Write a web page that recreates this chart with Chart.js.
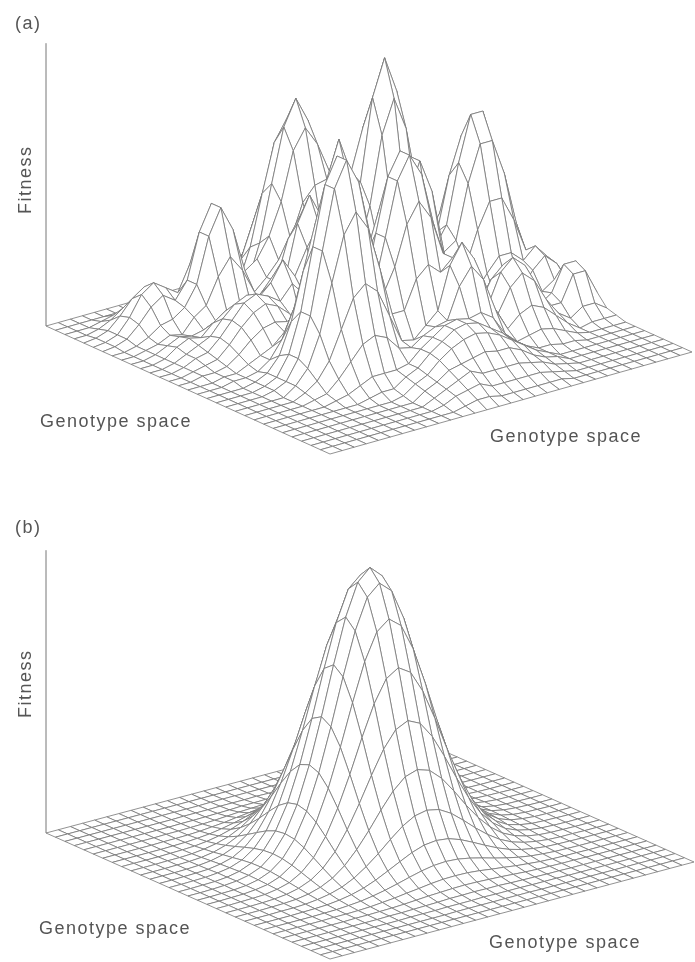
<!DOCTYPE html>
<html>
<head>
<meta charset="utf-8">
<title>Fitness landscapes</title>
<script src="https://cdn.jsdelivr.net/npm/chart.js@4"></script>
<style>
html,body{margin:0;padding:0;background:#fff;}
#page{position:relative;width:695px;height:962px;overflow:hidden;filter:blur(.4px);}
canvas{position:absolute;left:0;}
.lbl{position:absolute;font-family:"Liberation Sans",sans-serif;color:#555;white-space:nowrap;line-height:1;font-size:18px;letter-spacing:1.5px;}
.rot{transform:rotate(-90deg);transform-origin:left top;}
</style>
</head>
<body>
<div id="page">
  <canvas id="chartA" width="695" height="470" style="top:0"></canvas>
  <canvas id="chartB" width="695" height="492" style="top:470px"></canvas>
</div>
<script>
const panelLabels = ['(a)', '(b)'];
const fitnessLabel = 'Fitness';
const genotypeLabel = 'Genotype space';

// heights, 0-100, rows go from the back edge to the left corner
const fitnessA = [
[0,0,0,0,0,0,0,0,0,0,1,2,3,4,3,4,6,5,4,8,6,2,1,0,0,0,0,0,0,0,0],
[0,0,0,0,0,0,0,0,0,1,3,7,10,12,10,9,14,13,9,17,15,5,1,0,0,0,0,0,0,0,0],
[0,0,0,0,0,0,0,0,1,3,8,16,24,28,24,16,19,17,10,17,15,5,1,0,0,0,0,0,0,0,0],
[0,0,0,0,0,0,0,0,2,5,14,28,43,49,43,28,15,13,7,8,6,2,0,0,0,0,0,0,0,0,0],
[0,0,0,0,0,0,0,1,2,7,19,37,56,65,56,37,19,7,3,5,6,5,3,1,0,0,0,0,0,0,0],
[0,0,0,0,0,0,1,3,5,8,19,37,56,65,56,37,19,8,7,11,13,11,7,3,1,0,0,0,0,0,0],
[0,0,0,0,0,1,4,9,15,18,15,28,43,49,43,28,14,6,11,19,23,19,11,5,1,0,0,0,0,0,0],
[0,0,0,0,1,3,9,21,35,42,35,21,24,28,24,16,8,6,13,23,27,23,13,6,2,0,0,0,0,0,0],
[0,0,0,0,1,5,15,35,59,71,59,35,15,21,21,12,5,5,11,19,23,19,11,5,2,2,2,1,0,0,0],
[0,0,0,1,2,5,18,42,71,84,71,42,26,44,44,26,9,4,7,11,13,11,7,4,4,4,3,2,1,0,0],
[0,0,1,3,6,8,15,35,59,71,59,35,34,56,56,34,12,9,9,8,15,18,15,8,7,7,5,4,2,1,0],
[0,1,3,7,14,20,23,34,44,42,35,21,26,44,44,26,17,22,22,17,27,33,27,15,11,10,8,5,3,1,0],
[0,2,6,14,26,38,43,44,57,44,20,9,12,21,21,19,33,42,42,33,33,40,33,18,14,13,10,6,3,1,0],
[1,3,8,20,38,55,62,55,44,22,10,5,2,5,14,29,47,61,61,47,29,33,27,17,17,15,10,6,3,1,0],
[1,3,10,23,43,62,71,62,43,23,18,15,7,6,16,33,54,69,69,54,33,18,16,18,18,16,11,6,3,1,0],
[1,3,8,20,38,55,62,55,38,29,36,29,15,5,14,29,47,61,61,47,29,14,15,17,17,15,10,6,3,1,0],
[0,2,6,14,26,38,43,38,26,36,45,36,18,6,10,19,33,42,42,33,19,10,13,14,14,13,9,8,5,2,0],
[0,1,3,7,14,20,23,27,20,29,36,29,15,5,3,6,17,22,24,24,19,11,10,11,11,10,8,6,4,2,0],
[0,0,1,3,6,8,10,20,15,15,18,20,15,6,4,11,21,36,46,46,36,21,11,7,7,6,5,4,3,1,0],
[0,0,1,2,4,11,17,17,11,8,20,27,20,8,6,16,31,52,67,67,52,31,16,6,5,4,3,2,1,0,0],
[0,0,0,2,8,20,33,33,20,8,15,20,15,12,9,18,35,59,76,76,59,35,18,6,2,1,0,0,0,0,0],
[0,0,0,3,11,26,42,42,26,11,12,16,18,16,12,16,31,52,67,67,52,31,16,6,2,0,0,0,0,0,0],
[0,0,1,2,8,20,33,33,20,8,13,18,20,18,13,11,21,36,46,46,36,21,11,4,1,0,0,0,0,0,0],
[0,0,1,3,6,11,17,17,11,7,12,16,18,16,12,7,11,19,24,24,19,11,6,2,0,0,0,0,0,0,0],
[0,0,2,6,11,14,11,10,8,5,9,12,13,12,9,5,5,8,10,10,8,5,2,1,0,0,0,0,0,0,0],
[0,0,2,7,14,17,14,7,3,4,5,7,8,7,5,3,2,3,3,3,3,2,1,0,0,0,0,0,0,0,0],
[0,0,2,6,11,14,11,6,4,5,6,5,4,3,2,1,1,1,1,1,0,0,0,0,0,0,0,0,0,0,0],
[0,0,1,3,6,7,6,3,2,3,4,3,3,2,1,1,1,0,0,0,0,0,0,0,0,0,0,0,0,0,0],
[0,0,0,1,2,2,2,1,1,1,1,1,1,1,1,0,0,0,0,0,0,0,0,0,0,0,0,0,0,0,0],
[0,0,0,0,.5,.5,.5,0,0,0,0,0,0,0,0,0,0,0,0,0,0,0,0,0,0,0,0,0,0,0,0],
[0,0,0,0,0,0,0,0,0,0,0,0,0,0,0,0,0,0,0,0,0,0,0,0,0,0,0,0,0,0,0]
];

const fitnessB = [
[0,0,0,0,0,0,0,0,0,0,0,0,0,0,0,0,0,0,0,0,0,0,0,0,0,0,0,0,0,0,0],
[0,0,0,0,0,0,0,0,0,0,0,0,0,0,0,0,0,0,0,0,0,0,0,0,0,0,0,0,0,0,0],
[0,0,0,0,0,0,0,0,0,0,0,0,.1,.1,.1,.1,.1,.1,.1,0,0,0,0,0,0,0,0,0,0,0,0],
[0,0,0,0,0,0,0,0,0,.1,.1,.1,.2,.2,.2,.3,.2,.2,.2,.1,.1,.1,0,0,0,0,0,0,0,0,0],
[0,0,0,0,0,0,0,0,.1,.1,.2,.3,.4,.6,.6,.7,.6,.6,.4,.3,.2,.1,.1,0,0,0,0,0,0,0,0],
[0,0,0,0,0,0,.1,.1,.2,.3,.5,.8,1.1,1.3,1.5,1.6,1.5,1.3,1.1,.8,.5,.3,.2,.1,.1,0,0,0,0,0,0],
[0,0,0,0,0,.1,.1,.2,.4,.8,1.2,1.8,2.3,2.9,3.3,3.4,3.3,2.9,2.3,1.8,1.2,.8,.4,.2,.1,.1,0,0,0,0,0],
[0,0,0,0,0,.1,.2,.5,.9,1.6,2.5,3.6,4.8,5.9,6.7,7,6.7,5.9,4.8,3.6,2.5,1.6,.9,.5,.2,.1,0,0,0,0,0],
[0,0,0,0,.1,.2,.4,.9,1.7,2.9,4.6,6.7,8.9,11,12.5,13,12.5,11,8.9,6.7,4.6,2.9,1.7,.9,.4,.2,.1,0,0,0,0],
[0,0,0,.1,.1,.3,.8,1.6,2.9,5,7.9,11.4,15.3,18.9,21.4,22.3,21.4,18.9,15.3,11.4,7.9,5,2.9,1.6,.8,.3,.1,.1,0,0,0],
[0,0,0,.1,.2,.5,1.2,2.5,4.6,7.9,12.5,18.1,24.3,29.9,33.9,35.3,33.9,29.9,24.3,18.1,12.5,7.9,4.6,2.5,1.2,.5,.2,.1,0,0,0],
[0,0,0,.1,.3,.8,1.8,3.6,6.7,11.4,18.1,26.3,35.2,43.4,49.2,51.3,49.2,43.4,35.2,26.3,18.1,11.4,6.7,3.6,1.8,.8,.3,.1,0,0,0],
[0,0,.1,.2,.4,1.1,2.3,4.8,8.9,15.3,24.3,35.2,47.2,58.1,65.9,68.7,65.9,58.1,47.2,35.2,24.3,15.3,8.9,4.8,2.3,1.1,.4,.2,.1,0,0],
[0,0,.1,.2,.6,1.3,2.9,5.9,11,18.9,29.9,43.4,58.1,71.6,81.1,84.6,81.1,71.6,58.1,43.4,29.9,18.9,11,5.9,2.9,1.3,.6,.2,.1,0,0],
[0,0,.1,.2,.6,1.5,3.3,6.7,12.5,21.4,33.9,49.2,65.9,81.1,92,95.9,92,81.1,65.9,49.2,33.9,21.4,12.5,6.7,3.3,1.5,.6,.2,.1,0,0],
[0,0,.1,.3,.7,1.6,3.4,7,13,22.3,35.3,51.3,68.7,84.6,95.9,100,95.9,84.6,68.7,51.3,35.3,22.3,13,7,3.4,1.6,.7,.3,.1,0,0],
[0,0,.1,.2,.6,1.5,3.3,6.7,12.5,21.4,33.9,49.2,65.9,81.1,92,95.9,92,81.1,65.9,49.2,33.9,21.4,12.5,6.7,3.3,1.5,.6,.2,.1,0,0],
[0,0,.1,.2,.6,1.3,2.9,5.9,11,18.9,29.9,43.4,58.1,71.6,81.1,84.6,81.1,71.6,58.1,43.4,29.9,18.9,11,5.9,2.9,1.3,.6,.2,.1,0,0],
[0,0,.1,.2,.4,1.1,2.3,4.8,8.9,15.3,24.3,35.2,47.2,58.1,65.9,68.7,65.9,58.1,47.2,35.2,24.3,15.3,8.9,4.8,2.3,1.1,.4,.2,.1,0,0],
[0,0,0,.1,.3,.8,1.8,3.6,6.7,11.4,18.1,26.3,35.2,43.4,49.2,51.3,49.2,43.4,35.2,26.3,18.1,11.4,6.7,3.6,1.8,.8,.3,.1,0,0,0],
[0,0,0,.1,.2,.5,1.2,2.5,4.6,7.9,12.5,18.1,24.3,29.9,33.9,35.3,33.9,29.9,24.3,18.1,12.5,7.9,4.6,2.5,1.2,.5,.2,.1,0,0,0],
[0,0,0,.1,.1,.3,.8,1.6,2.9,5,7.9,11.4,15.3,18.9,21.4,22.3,21.4,18.9,15.3,11.4,7.9,5,2.9,1.6,.8,.3,.1,.1,0,0,0],
[0,0,0,0,.1,.2,.4,.9,1.7,2.9,4.6,6.7,8.9,11,12.5,13,12.5,11,8.9,6.7,4.6,2.9,1.7,.9,.4,.2,.1,0,0,0,0],
[0,0,0,0,0,.1,.2,.5,.9,1.6,2.5,3.6,4.8,5.9,6.7,7,6.7,5.9,4.8,3.6,2.5,1.6,.9,.5,.2,.1,0,0,0,0,0],
[0,0,0,0,0,.1,.1,.2,.4,.8,1.2,1.8,2.3,2.9,3.3,3.4,3.3,2.9,2.3,1.8,1.2,.8,.4,.2,.1,.1,0,0,0,0,0],
[0,0,0,0,0,0,.1,.1,.2,.3,.5,.8,1.1,1.3,1.5,1.6,1.5,1.3,1.1,.8,.5,.3,.2,.1,.1,0,0,0,0,0,0],
[0,0,0,0,0,0,0,0,.1,.1,.2,.3,.4,.6,.6,.7,.6,.6,.4,.3,.2,.1,.1,0,0,0,0,0,0,0,0],
[0,0,0,0,0,0,0,0,0,.1,.1,.1,.2,.2,.2,.3,.2,.2,.2,.1,.1,.1,0,0,0,0,0,0,0,0,0],
[0,0,0,0,0,0,0,0,0,0,0,0,.1,.1,.1,.1,.1,.1,.1,0,0,0,0,0,0,0,0,0,0,0,0],
[0,0,0,0,0,0,0,0,0,0,0,0,0,0,0,0,0,0,0,0,0,0,0,0,0,0,0,0,0,0,0],
[0,0,0,0,0,0,0,0,0,0,0,0,0,0,0,0,0,0,0,0,0,0,0,0,0,0,0,0,0,0,0]
];

const LINE = '#767676';
const HEIGHT_PX = 2.8; // one fitness unit on the page

// base plane of a panel: back, left and right corners, in page pixels
function projector(back, left, right, n){
  const ux = (left[0]-back[0])/n, uy = (left[1]-back[1])/n;
  const vx = (right[0]-back[0])/n, vy = (right[1]-back[1])/n;
  return (u,v,h)=>({x: back[0]+u*ux+v*vx, y: back[1]+u*uy+v*vy-h*HEIGHT_PX});
}

function meshDatasets(heights, project){
  const n = heights.length-1;
  const cells = [];
  for(let u=0;u<n;u++) for(let v=0;v<n;v++) cells.push([u,v]);
  // library draws dataset 0 last, so the front cells go first and hide what is behind
  cells.sort((a,b)=>(b[0]+b[1])-(a[0]+a[1]));
  const sets = cells.map(([u,v])=>({
    data:[
      project(u,v,heights[u][v]),
      project(u+1,v,heights[u+1][v]),
      project(u+1,v+1,heights[u+1][v+1]),
      project(u,v+1,heights[u][v+1]),
      project(u,v,heights[u][v])
    ],
    showLine:true, pointRadius:0, borderWidth:.8, borderColor:LINE,
    backgroundColor:'#fff', fill:'shape', tension:0, clip:false
  }));
  // fitness axis, drawn behind the mesh
  sets.push({data:[project(n,0,0),project(n,0,101)],showLine:true,pointRadius:0,borderWidth:1,borderColor:'#777',clip:false});
  return sets;
}

function drawPanel(id, heights, corners, top, bottom){
  const project = projector(corners[0],corners[1],corners[2],heights.length-1);
  new Chart(document.getElementById(id),{
    type:'scatter',
    data:{datasets:meshDatasets(heights,project)},
    options:{
      responsive:false, animation:false, events:[],
      layout:{padding:0},
      plugins:{legend:{display:false},tooltip:{enabled:false},title:{display:false}},
      scales:{
        x:{type:'linear',min:0,max:695,display:false},
        y:{type:'linear',min:top,max:bottom,reverse:true,display:false}
      }
    }
  });
}

drawPanel('chartA',fitnessA,[[408,224],[46,326],[692,352]],0,470);
drawPanel('chartB',fitnessB,[[410,736],[46,833],[694,862]],470,962);

function addLabel(text,x,y,rot){
  const el = document.createElement('div');
  el.className = 'lbl'+(rot?' rot':'');
  el.textContent = text;
  el.style.left = x+'px';
  el.style.top = y+'px';
  document.getElementById('page').appendChild(el);
}
addLabel(panelLabels[0],15,14);
addLabel(panelLabels[1],15,518);
addLabel(fitnessLabel,16,214,true);
addLabel(fitnessLabel,16,718,true);
addLabel(genotypeLabel,40,412);
addLabel(genotypeLabel,490,427);
addLabel(genotypeLabel,39,919);
addLabel(genotypeLabel,489,933);
</script>
</body>
</html>
